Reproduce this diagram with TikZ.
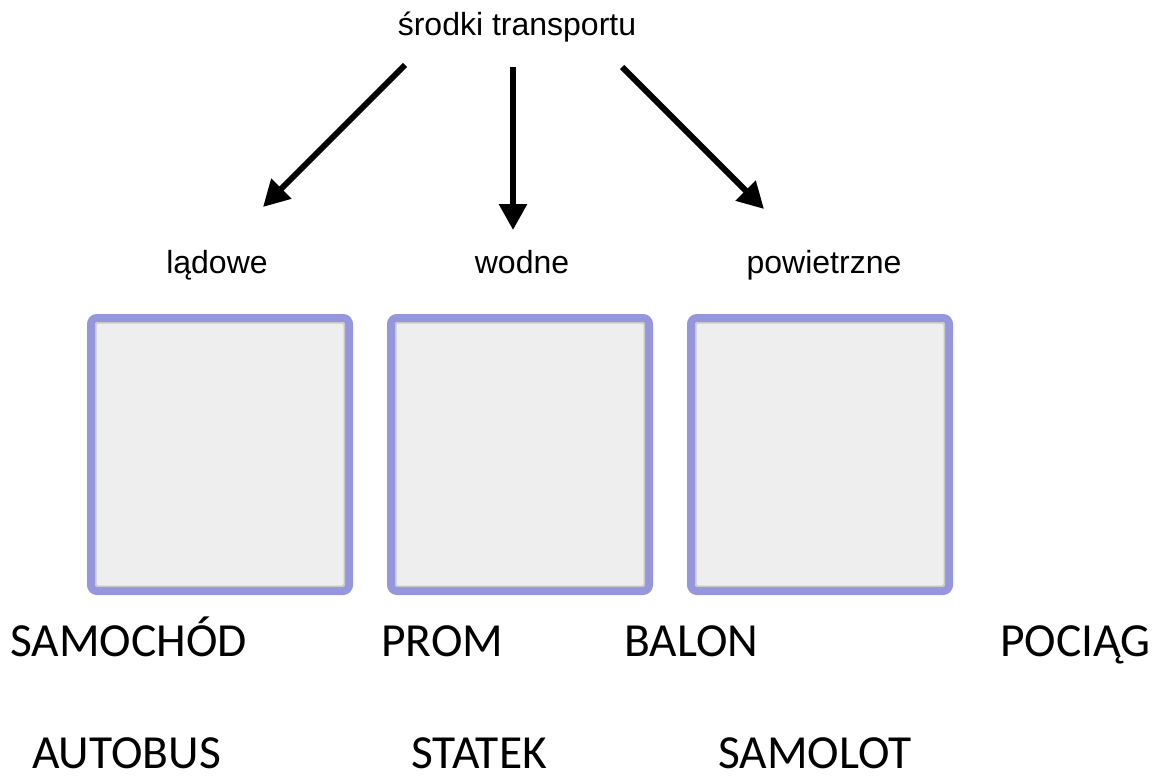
\documentclass[tikz,border=0pt]{standalone}
\usepackage{fontspec}
\setmainfont{Liberation Sans}
\newfontfamily\calib{Carlito}
\usetikzlibrary{arrows.meta,calc}
\definecolor{boxedge}{RGB}{150,150,221}
\definecolor{boxfill}{RGB}{238,238,238}
\definecolor{shadowc}{RGB}{200,200,200}
\begin{document}
\begin{tikzpicture}[x=1pt,y=-1pt,
  lbl/.style={inner sep=0pt, anchor=base, font=\fontsize{32}{38}\selectfont},
  word/.style={inner sep=0pt, anchor=base west, font=\calib\fontsize{47.5}{56}\selectfont},
  box/.style={draw=boxedge, fill=boxfill, line width=8pt, rounded corners=6pt,
              minimum width=258pt, minimum height=273pt, inner sep=0pt, outer sep=0pt},
  arr/.style={line width=6pt, -{Triangle[width=27pt,length=26pt]}}]
\useasboundingbox (0,0) rectangle (1157,781);
% title and category labels
\node[lbl] (t) at (517,36) {środki transportu};
\node[lbl] (l1) at (217,273) {lądowe};
\node[lbl] (l2) at (522,273) {wodne};
\node[lbl] (l3) at (824,273) {powietrzne};
% arrows
\coordinate (s1) at (405,65);  \coordinate (e1) at (263,207);
\coordinate (s2) at (513,67);  \coordinate (e2) at (513,230);
\coordinate (s3) at (622,67);  \coordinate (e3) at (764,209);
\draw[arr] (s1) -- (e1);
\draw[arr] (s2) -- (e2);
\draw[arr] (s3) -- (e3);
% boxes
\foreach \n/\x in {b1/220,b2/520,b3/820}{
  \node[box] (\n) at (\x,454.5) {};
  \draw[shadowc, line width=1.5pt, rounded corners=2pt]
    ($(\n.north west)+(4.75,4.75)$) rectangle ($(\n.south east)+(-4.75,-4.75)$);
}
% words
\node[word] (w1) at (10,656) {SAMOCHÓD};
\node[word] (w2) at (381,656) {PROM};
\node[word] (w3) at (624,656) {BALON};
\node[word] (w4) at (1000,656) {POCIĄG};
\node[word] (w5) at (32,768) {AUTOBUS};
\node[word] (w6) at (411,768) {STATEK};
\node[word] (w7) at (718,768) {SAMOLOT};
\end{tikzpicture}
\end{document}
